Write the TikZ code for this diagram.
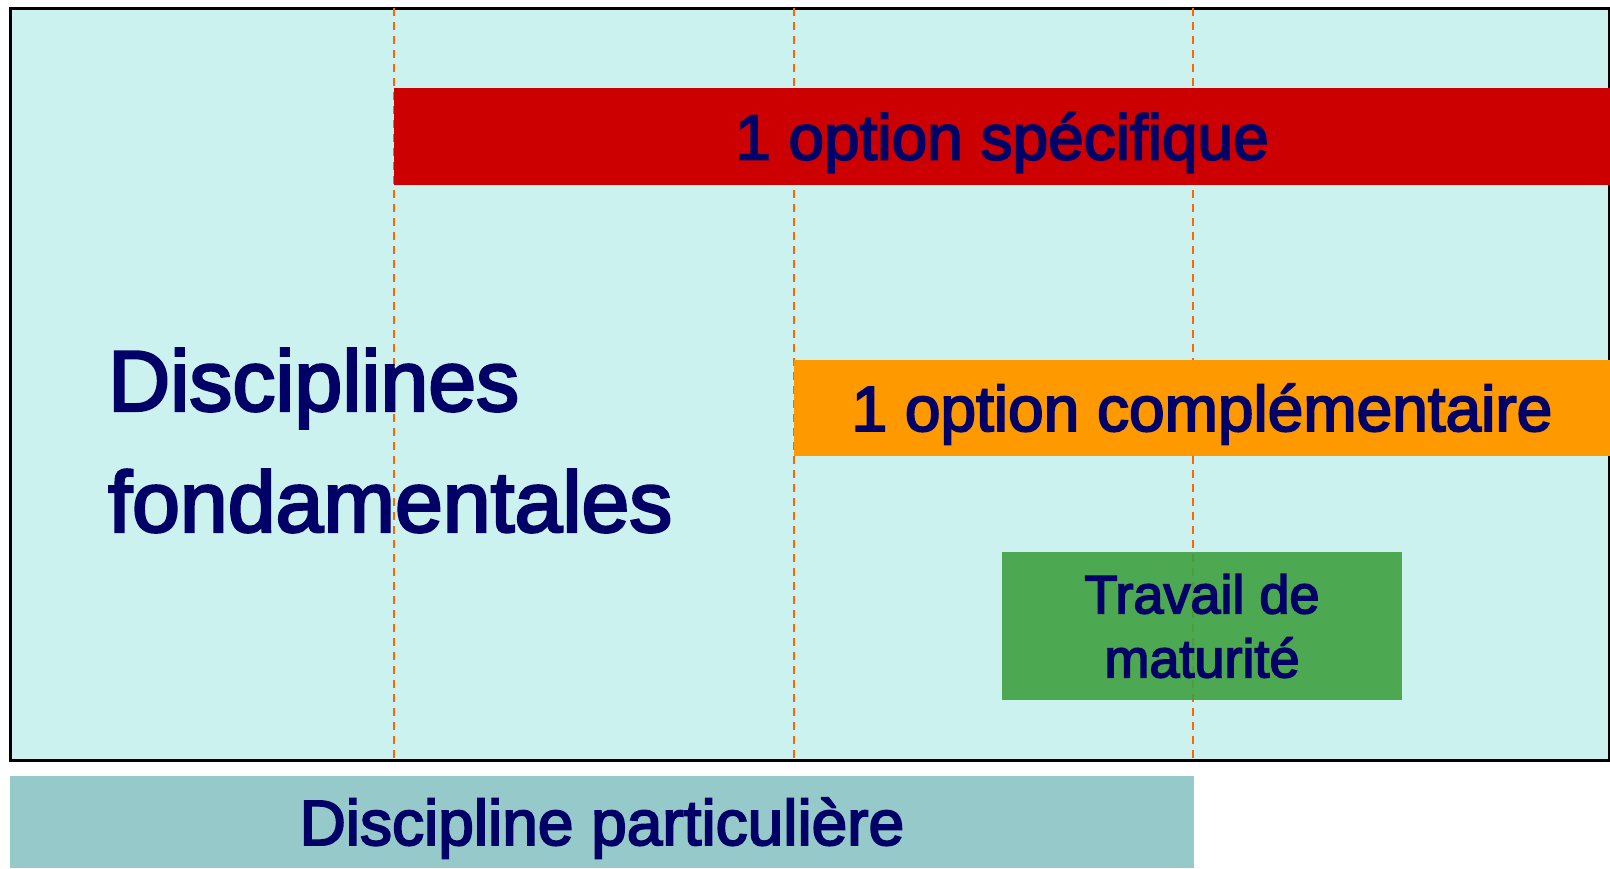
\documentclass[tikz,border=0pt]{standalone}
\usepackage{fontspec}
\setmainfont{Liberation Sans}
\newfontfamily\fatsans{Liberation Sans}[FakeBold=3]
\definecolor{panelcyan}{RGB}{204,242,240}
\definecolor{optred}{RGB}{204,0,0}
\definecolor{optorange}{RGB}{255,153,0}
\definecolor{tmgreen}{RGB}{63,160,64}
\definecolor{dpteal}{RGB}{150,202,202}
\definecolor{textnavy}{RGB}{0,0,102}
\definecolor{guideorange}{RGB}{255,102,0}
\tikzset{
  bar/.style={inner sep=0pt, text=textnavy,
    font=\fatsans\fontsize{64}{77}\selectfont, text height=46pt, text depth=0pt},
  guide/.style={guideorange, line width=2pt, dash pattern=on 8pt off 6pt}
}
\begin{document}
\begin{tikzpicture}[x=1pt,y=-1pt]
  \useasboundingbox (0,0) rectangle (1610,868);
  \draw[fill=panelcyan, line width=3pt] (10,8) rectangle (1609,760);
  \foreach \gx in {394,794,1193}
    \draw[guide] (\gx,8) -- (\gx,760);
  \node[bar, fill=optred, minimum width=1216pt, minimum height=97pt]
    (specifique) at (1002,136.5) {1 option spécifique};
  \node[bar, fill=optorange, minimum width=816pt, minimum height=96pt]
    (complementaire) at (1202,408) {1 option complémentaire};
  \node[inner sep=0pt, text=textnavy, fill=tmgreen, fill opacity=0.9,
    text opacity=1, align=center, minimum width=400pt, minimum height=148pt,
    font=\fatsans\fontsize{54}{64}\selectfont]
    (travail) at (1202,626) {Travail de\\maturité};
  \node[inner sep=0pt, text=textnavy, align=left, anchor=west,
    font=\fatsans\fontsize{86}{121}\selectfont]
    (fondamentales) at (108,440.5) {Disciplines\\fondamentales};
  \node[bar, fill=dpteal, minimum width=1184pt, minimum height=92pt]
    (particuliere) at (602,822) {Discipline particulière};
\end{tikzpicture}
\end{document}
